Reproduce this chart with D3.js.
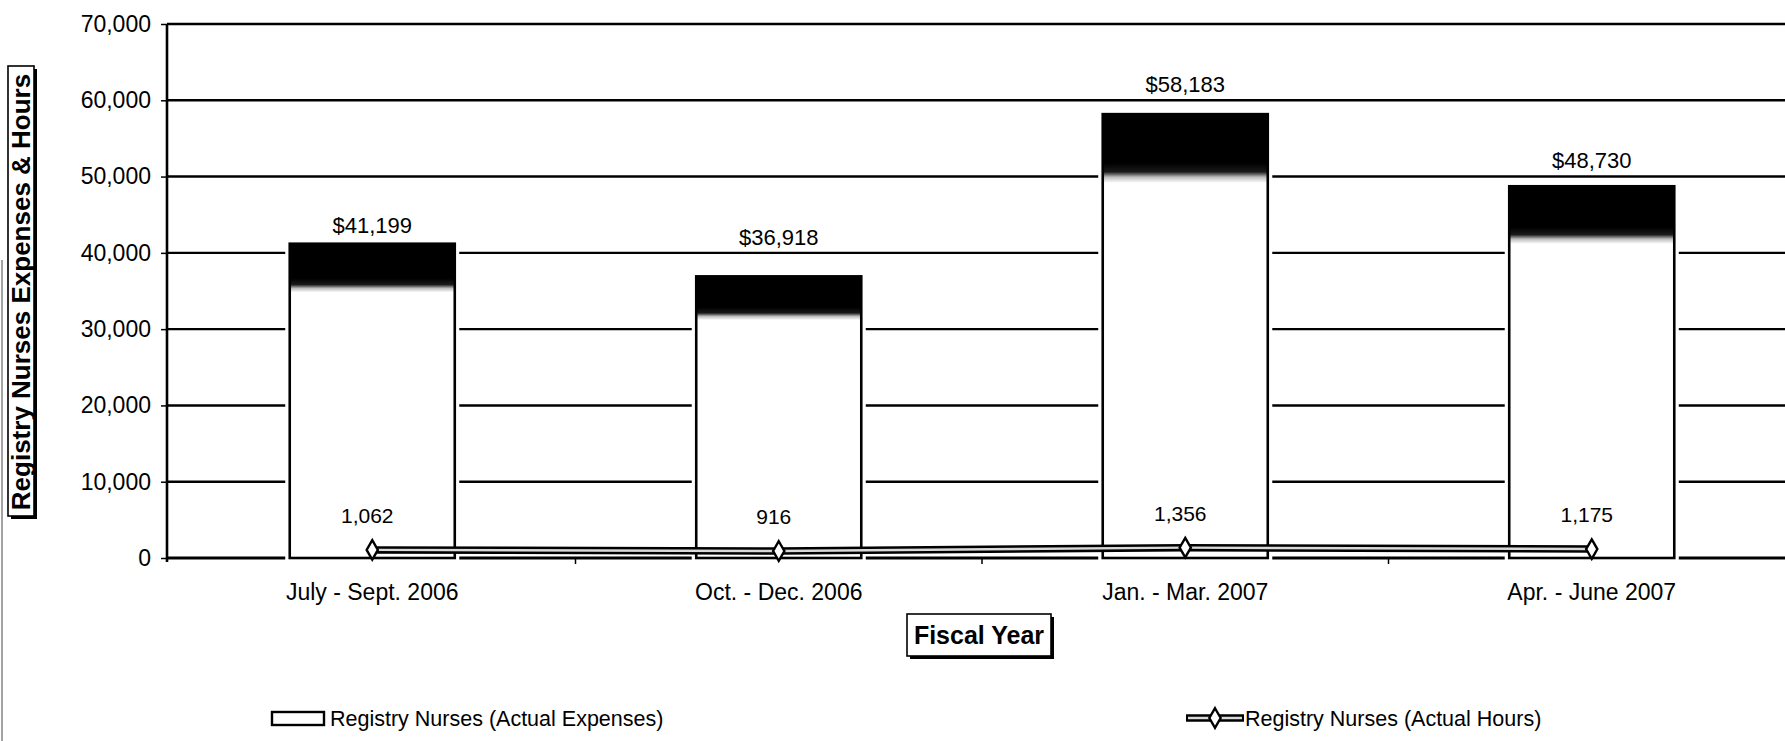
<!DOCTYPE html>
<html>
<head>
<meta charset="utf-8">
<script src="https://cdn.jsdelivr.net/npm/d3@7"></script>
<style>
  html, body { margin: 0; padding: 0; background: #fff; }
  svg { display: block; font-family: Arial, "Liberation Sans", Helvetica, sans-serif; }
</style>
</head>
<body>
<svg id="chart" width="1785" height="741"></svg>
<script>
// Quarterly registry nurse spending (USD) and hours
const quarters = ["July - Sept. 2006", "Oct. - Dec. 2006", "Jan. - Mar. 2007", "Apr. - June 2007"];
const expenses = [41199, 36918, 58183, 48730];
const hours = [1062, 916, 1356, 1175];
const yTicks = [0, 10000, 20000, 30000, 40000, 50000, 60000, 70000];
const seriesNames = ["Registry Nurses (Actual Expenses)", "Registry Nurses (Actual Hours)"];
const yTitle = "Registry Nurses Expenses & Hours";
const xTitle = "Fiscal Year";

const svg = d3.select("#chart");
const W = 1785, H = 741;
const plot = { left: 167, top: 24, bottom: 558, right: 1795 };

const x = d3.scaleBand(quarters, [plot.left + 2, plot.right])
  .paddingInner(0.594).paddingOuter(0.297);
const y = d3.scaleLinear([0, 70000], [plot.bottom, plot.top]);

// gradient for the dark cap at the top of each bar
const defs = svg.append("defs");
const grad = defs.append("linearGradient")
  .attr("id", "capFill").attr("x1", 0).attr("y1", 0).attr("x2", 0).attr("y2", 1);
[[0, "#000"], [0.11, "#000"], [0.13, "#1a1a1a"], [0.142, "#bdbdbd"], [0.155, "#fff"], [1, "#fff"]]
  .forEach(([o, c]) => grad.append("stop").attr("offset", o).attr("stop-color", c));

// scan border at the far left
svg.append("line").attr("x1", 2).attr("x2", 2).attr("y1", 260).attr("y2", H)
  .attr("stroke", "#666").attr("stroke-width", 1.2);

// horizontal gridlines
svg.append("g").selectAll("line").data(yTicks).join("line")
  .attr("x1", plot.left).attr("x2", W)
  .attr("y1", d => y(d)).attr("y2", d => y(d))
  .attr("stroke", "#000").attr("stroke-width", d => d === 0 ? 3 : 2.4);

// y axis with ticks and labels
const yAxis = svg.append("g").attr("transform", `translate(${plot.left},0)`)
  .call(d3.axisLeft(y).tickValues(yTicks).tickFormat(d3.format(",")).tickSize(6).tickPadding(10));
yAxis.select(".domain").attr("stroke", "#000").attr("stroke-width", 2.6)
  .attr("d", `M0,${plot.top}V${plot.bottom + 4}`);
yAxis.selectAll(".tick line").attr("stroke", "#000").attr("stroke-width", 1.5);
yAxis.selectAll(".tick text").attr("font-size", 23).attr("fill", "#000")
  .attr("font-family", "Arial, 'Liberation Sans', sans-serif");

// small ticks under the baseline at the category boundaries
svg.append("g").selectAll("line").data(quarters.slice(1)).join("line")
  .attr("x1", d => x(d) - x.step() * x.paddingInner() / 2)
  .attr("x2", d => x(d) - x.step() * x.paddingInner() / 2)
  .attr("y1", plot.bottom).attr("y2", plot.bottom + 6)
  .attr("stroke", "#000").attr("stroke-width", 1.5);

// expense bars
const bars = svg.append("g");
bars.selectAll("rect.gap").data(quarters).join("rect").attr("class", "gap")
  .attr("x", d => x(d)).attr("width", x.bandwidth())
  .attr("y", (d, i) => y(expenses[i])).attr("height", (d, i) => y(0) - y(expenses[i]) - 2)
  .attr("fill", "#fff").attr("stroke", "#fff").attr("stroke-width", 9);
bars.selectAll("rect.bar").data(quarters).join("rect").attr("class", "bar")
  .attr("x", d => x(d)).attr("width", x.bandwidth())
  .attr("y", (d, i) => y(expenses[i])).attr("height", (d, i) => y(0) - y(expenses[i]))
  .attr("fill", "url(#capFill)").attr("stroke", "#000").attr("stroke-width", 2.6);

// expense value labels: placed above the bar, lifted clear of any gridline they would cross
function labelY(v) {
  let yc = y(v) - 18;
  const g = Math.ceil(v / 10000) * 10000;
  const gy = y(g);
  if (Math.abs(gy - yc) < 10) yc = gy - 16;
  return yc;
}
svg.append("g").selectAll("text").data(quarters).join("text")
  .attr("x", d => x(d) + x.bandwidth() / 2)
  .attr("y", (d, i) => labelY(expenses[i]))
  .attr("dy", "0.35em")
  .attr("text-anchor", "middle").attr("font-size", 22).attr("fill", "#000")
  .text((d, i) => d3.format("$,")(expenses[i]));

// hours line: thick black stroke with a light core
const cx = d => x(d) + x.bandwidth() / 2;
const line = d3.line().x(d => cx(d[0])).y(d => y(d[1]));
const pts = quarters.map((q, i) => [q, hours[i]]);
svg.append("path").datum(pts).attr("d", line).attr("fill", "none")
  .attr("stroke", "#000").attr("stroke-width", 7.5);
svg.append("path").datum(pts).attr("d", line).attr("fill", "none")
  .attr("stroke", "#d8d8d8").attr("stroke-width", 2.4);
svg.append("g").selectAll("path").data(pts).join("path")
  .attr("transform", d => `translate(${cx(d[0])},${y(d[1])})`)
  .attr("d", d3.symbol(d3.symbolDiamond, 110))
  .attr("fill", "#fff").attr("stroke", "#000").attr("stroke-width", 2.4);

// hours value labels
svg.append("g").selectAll("text").data(pts).join("text")
  .attr("x", d => cx(d[0]) - 5)
  .attr("y", d => y(d[1]) - 27)
  .attr("text-anchor", "middle").attr("font-size", 21).attr("fill", "#000")
  .text(d => d3.format(",")(d[1]));

// category labels
svg.append("g").selectAll("text").data(quarters).join("text")
  .attr("x", d => cx(d)).attr("y", 600)
  .attr("text-anchor", "middle").attr("font-size", 23).attr("fill", "#000")
  .text(d => d);

// boxed titles with drop shadow
function boxedTitle(g, bx, by, bw, bh) {
  g.append("rect").attr("x", bx + 3).attr("y", by + 3).attr("width", bw).attr("height", bh).attr("fill", "#000");
  g.append("rect").attr("x", bx).attr("y", by).attr("width", bw).attr("height", bh)
    .attr("fill", "#fff").attr("stroke", "#000").attr("stroke-width", 1.6);
}
const xt = svg.append("g");
boxedTitle(xt, 907, 614, 144, 42);
xt.append("text").attr("x", 979).attr("y", 644).attr("text-anchor", "middle")
  .attr("font-size", 25).attr("font-weight", "bold").attr("fill", "#000").text(xTitle);

const yt = svg.append("g");
boxedTitle(yt, 8, 66, 26, 450);
yt.append("text").attr("transform", "translate(30,292) rotate(-90)").attr("text-anchor", "middle")
  .attr("font-size", 26).attr("font-weight", "bold").attr("fill", "#000").text(yTitle);

// legend
const lg = svg.append("g");
lg.append("rect").attr("x", 272).attr("y", 712).attr("width", 52).attr("height", 13)
  .attr("fill", "#fff").attr("stroke", "#000").attr("stroke-width", 2.4);
lg.append("text").attr("x", 330).attr("y", 726).attr("font-size", 21.5).attr("fill", "#000").text(seriesNames[0]);
lg.append("line").attr("x1", 1186).attr("x2", 1244).attr("y1", 718).attr("y2", 718)
  .attr("stroke", "#000").attr("stroke-width", 7.5);
lg.append("line").attr("x1", 1188).attr("x2", 1242).attr("y1", 718).attr("y2", 718)
  .attr("stroke", "#d8d8d8").attr("stroke-width", 2.4);
lg.append("path").attr("transform", "translate(1215,718)")
  .attr("d", d3.symbol(d3.symbolDiamond, 110))
  .attr("fill", "#fff").attr("stroke", "#000").attr("stroke-width", 2.4);
lg.append("text").attr("x", 1245).attr("y", 726).attr("font-size", 21.5).attr("fill", "#000").text(seriesNames[1]);
</script>
</body>
</html>
